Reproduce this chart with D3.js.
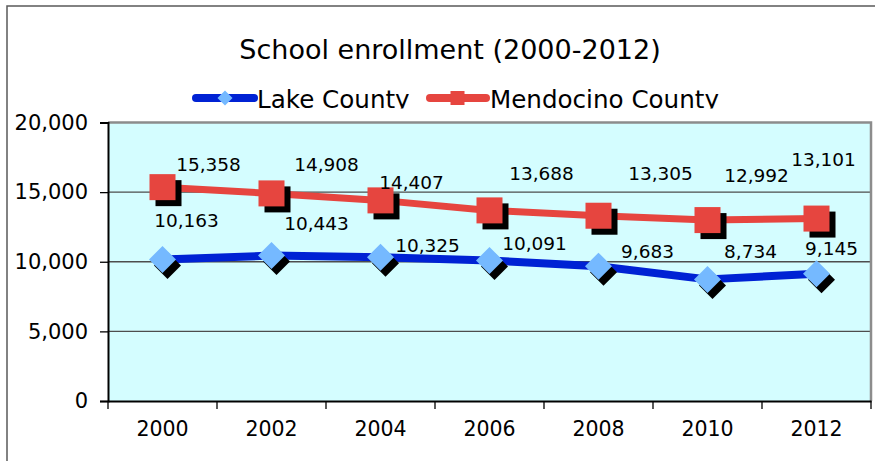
<!DOCTYPE html>
<html>
<head>
<meta charset="utf-8">
<script src="https://cdn.jsdelivr.net/npm/d3@7"></script>
<style>
  body { margin: 0; background: #fff; }
  svg { display: block; font-family: "DejaVu Sans", Verdana, sans-serif; }
</style>
</head>
<body>
<svg id="chart" width="875" height="461"></svg>
<script>
// data
var years = ["2000", "2002", "2004", "2006", "2008", "2010", "2012"];
var lake = [10163, 10443, 10325, 10091, 9683, 8734, 9145];
var mendocino = [15358, 14908, 14407, 13688, 13305, 12992, 13101];
var yTicks = [0, 5000, 10000, 15000, 20000];

// hand placed label offsets (from marker centre)
var lakeOff = [[24, -39], [45, -32], [47, -12], [45, -17], [49, -15], [43, -28], [15, -25]];
var mendoOff = [[46, -23], [55, -29], [31, -18], [52, -37], [62, -42], [49, -45], [7, -59]];

var svg = d3.select("#chart");
var pLeft = 108, pRight = 871, pTop = 122.5, pBottom = 401;

var x = d3.scaleBand().domain(years).range([pLeft, pRight]).padding(0);
var y = d3.scaleLinear().domain([0, 20000]).range([pBottom, pTop]);
var cx = function(d, i){ return x(years[i]) + x.bandwidth() / 2; };

// outer frame
svg.append("rect").attr("x", 7).attr("y", 6).attr("width", 900).attr("height", 500)
    .attr("fill", "none").attr("stroke", "#5a5a5a").attr("stroke-width", 1.5);

// title
svg.append("text").attr("x", 450).attr("y", 59).attr("text-anchor", "middle")
    .style("font-size", "27px").attr("fill", "#000").text("School enrollment (2000-2012)");

// plot area
svg.append("rect").attr("x", pLeft).attr("y", pTop).attr("width", pRight - pLeft).attr("height", pBottom - pTop)
    .attr("fill", "#d4fdff");

svg.append("g").selectAll("line")
    .data(yTicks.filter(function(d){ return d > 0 && d < 20000; }))
    .enter().append("line")
    .attr("x1", pLeft).attr("x2", pRight)
    .attr("y1", function(d){ return y(d); }).attr("y2", function(d){ return y(d); })
    .attr("stroke", "#4d4d4d").attr("stroke-width", 1.3);

// top + right border
svg.append("path")
    .attr("d", "M" + pLeft + "," + pTop + "H" + pRight + "V" + pBottom)
    .attr("fill", "none").attr("stroke", "#8c8c8c").attr("stroke-width", 2.5);

// y axis
var yAxis = svg.append("g").attr("transform", "translate(" + pLeft + ",0)")
    .call(d3.axisLeft(y).tickValues(yTicks).tickSize(8).tickPadding(12).tickFormat(d3.format(",")));
yAxis.select(".domain").attr("stroke", "#000").attr("stroke-width", 2);
yAxis.selectAll(".tick line").attr("stroke", "#000").attr("stroke-width", 1.3);
yAxis.selectAll("text").style("font-size", "21px").style("font-family", "DejaVu Sans").attr("fill", "#000");

// x axis
var xAxis = svg.append("g").attr("transform", "translate(0," + pBottom + ")")
    .call(d3.axisBottom(x).tickSize(0).tickPadding(20));
xAxis.select(".domain").attr("stroke", "#000").attr("stroke-width", 2);
xAxis.selectAll("text").style("font-size", "20.5px").style("font-family", "DejaVu Sans").attr("fill", "#000");

// category boundary ticks
svg.append("g").selectAll("line")
    .data(years.concat(["end"]))
    .enter().append("line")
    .attr("x1", function(d, i){ return pLeft + i * x.bandwidth(); })
    .attr("x2", function(d, i){ return pLeft + i * x.bandwidth(); })
    .attr("y1", pBottom).attr("y2", pBottom + 8)
    .attr("stroke", "#000").attr("stroke-width", 1.3);

var line = d3.line().x(cx).y(function(d){ return y(d); });

// lines
svg.append("path").datum(lake).attr("d", line)
    .attr("fill", "none").attr("stroke", "#0022d4").attr("stroke-width", 8).attr("stroke-linejoin", "round");
svg.append("path").datum(mendocino).attr("d", line)
    .attr("fill", "none").attr("stroke", "#e6453f").attr("stroke-width", 7).attr("stroke-linejoin", "round");

var diamond = function(px, py, r){
  return "M" + px + "," + (py - r) + "L" + (px + r) + "," + py + "L" + px + "," + (py + r) + "L" + (px - r) + "," + py + "Z";
};

// lake markers with shadow
var gl = svg.append("g");
gl.selectAll(".lshadow").data(lake).enter().append("path").attr("class", "lshadow")
    .attr("d", function(d, i){ return diamond(cx(d, i) + 5, y(d) + 6, 13.5); })
    .attr("fill", "#000");
gl.selectAll(".lmark").data(lake).enter().append("path").attr("class", "lmark")
    .attr("d", function(d, i){ return diamond(cx(d, i), y(d), 13.5); })
    .attr("fill", "#75b9ff");

// mendocino markers with shadow
var gm = svg.append("g");
gm.selectAll(".mshadow").data(mendocino).enter().append("rect").attr("class", "mshadow")
    .attr("x", function(d, i){ return cx(d, i) - 13 + 6; })
    .attr("y", function(d){ return y(d) - 13 + 6; })
    .attr("width", 26).attr("height", 26).attr("fill", "#000");
gm.selectAll(".mmark").data(mendocino).enter().append("rect").attr("class", "mmark")
    .attr("x", function(d, i){ return cx(d, i) - 13; })
    .attr("y", function(d){ return y(d) - 13; })
    .attr("width", 26).attr("height", 26).attr("fill", "#e6453f");

// data labels
var fmt = d3.format(",");
svg.append("g").selectAll("text").data(lake).enter().append("text")
    .attr("x", function(d, i){ return cx(d, i) + lakeOff[i][0]; })
    .attr("y", function(d, i){ return y(d) + lakeOff[i][1]; })
    .attr("dy", "0.36em").attr("text-anchor", "middle")
    .style("font-size", "18.5px").attr("fill", "#000")
    .text(function(d){ return fmt(d); });
svg.append("g").selectAll("text").data(mendocino).enter().append("text")
    .attr("x", function(d, i){ return cx(d, i) + mendoOff[i][0]; })
    .attr("y", function(d, i){ return y(d) + mendoOff[i][1]; })
    .attr("dy", "0.36em").attr("text-anchor", "middle")
    .style("font-size", "18.5px").attr("fill", "#000")
    .text(function(d){ return fmt(d); });

// legend
svg.append("clipPath").attr("id", "legclip")
    .append("rect").attr("x", 0).attr("y", 70).attr("width", 875).attr("height", 38.5);
var leg = svg.append("g");
leg.append("line").attr("x1", 196).attr("x2", 254).attr("y1", 98).attr("y2", 98)
    .attr("stroke", "#0022d4").attr("stroke-width", 8).attr("stroke-linecap", "round");
leg.append("path").attr("d", diamond(225, 98, 7.5)).attr("fill", "#75b9ff");
leg.append("text").attr("x", 257).attr("y", 107.5).attr("clip-path", "url(#legclip)")
    .style("font-size", "24.6px").attr("fill", "#000").text("Lake County");
leg.append("line").attr("x1", 430).attr("x2", 486).attr("y1", 98).attr("y2", 98)
    .attr("stroke", "#e6453f").attr("stroke-width", 8).attr("stroke-linecap", "round");
leg.append("rect").attr("x", 450.5).attr("y", 91).attr("width", 14).attr("height", 14).attr("fill", "#e6453f");
leg.append("text").attr("x", 490).attr("y", 107.5).attr("clip-path", "url(#legclip)")
    .style("font-size", "24.6px").attr("fill", "#000").text("Mendocino County");
</script>
</body>
</html>
